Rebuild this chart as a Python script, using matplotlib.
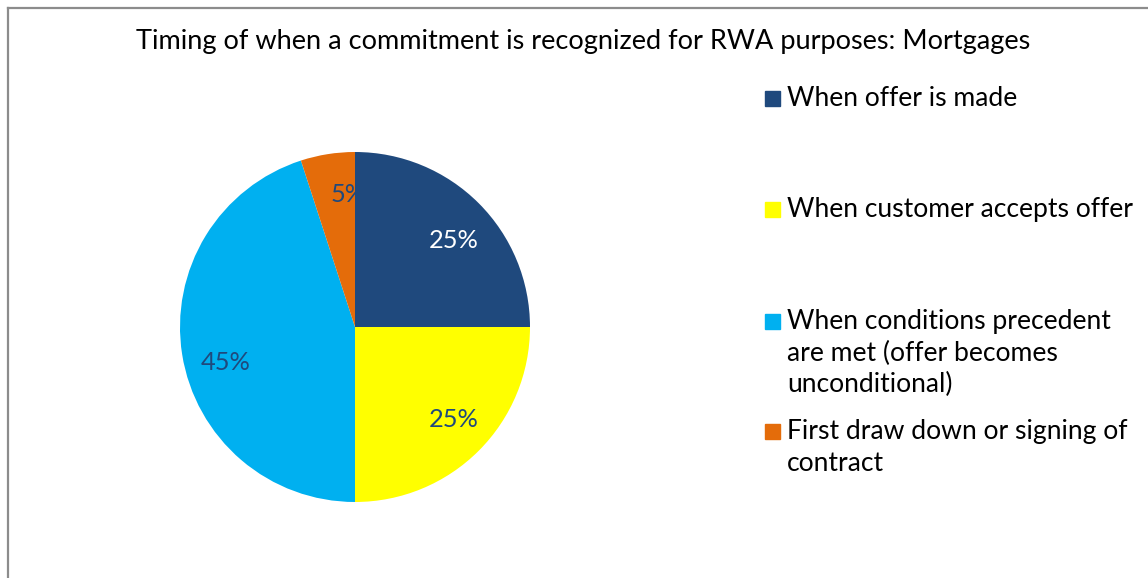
import matplotlib
matplotlib.use("Agg")
import matplotlib.pyplot as plt
from matplotlib.patches import Rectangle
from matplotlib.lines import Line2D

title = "Timing of when a commitment is recognized for RWA purposes: Mortgages"
categories = [
    "When offer is made",
    "When customer accepts offer",
    "When conditions precedent\nare met (offer becomes\nunconditional)",
    "First draw down or signing of\ncontract",
]
values = [25, 25, 45, 5]
colors = ["#1F497D", "#FFFF00", "#00B0F0", "#E46C0A"]
label_colors = ["white", "#1F497D", "#1F497D", "#1F497D"]

W, H = 1148, 578
FONT = ['Lato', 'DejaVu Sans']
plt.rcParams['font.family'] = FONT
fig = plt.figure(figsize=(W / 100, H / 100), dpi=100)
renderer = fig.canvas.get_renderer()


def fit_size(text, target_px):
    t = fig.text(0, 0, text, fontsize=10)
    w = t.get_window_extent(renderer).width
    t.remove()
    return 10 * target_px / w


def fx(px):
    return px / W


def fy(py):
    return 1 - py / H


# border
fig.add_artist(Line2D([fx(8), fx(8)], [0, fy(8)], color="#8C8C8C", lw=1.6))
fig.add_artist(Line2D([fx(8), 1], [fy(8), fy(8)], color="#8C8C8C", lw=1.6))

# pie: center (355, 327), radius 175
cx, cy, r = 355, 327, 175
ax = fig.add_axes([fx(cx - r), fy(cy + r), 2 * r / W, 2 * r / H])
pct_size = fit_size("25%", 50)
wedges, texts, autotexts = ax.pie(values, colors=colors, startangle=90, counterclock=False,
                                  autopct=lambda p: f"{p:.0f}%", pctdistance=0.77,
                                  wedgeprops=dict(linewidth=0),
                                  textprops=dict(fontsize=pct_size))
ax.set_aspect("equal")
ax.set_xlim(-1, 1)
ax.set_ylim(-1, 1)

# label baseline-centre positions in pixels (layout)
label_px = [(454, 248), (454, 427), (226, 370), (348, 202)]
for t, c, (px, py) in zip(autotexts, label_colors, label_px):
    t.set_color(c)
    t.set_position(((px - cx) / r, (cy - py) / r))
    t.set_va("baseline")
# the small slice label sits beneath the neighbouring wedge, as in the reference
autotexts[3].set_zorder(1.5)
wedges[0].set_zorder(2)

title_size = fit_size(title, 897)
fig.text(fx(583.5), fy(49), title, ha="center", va="baseline", fontsize=title_size, color="black")

# legend
leg_size = fit_size("When customer accepts offer", 346)
baselines = [[106], [217], [329, 361, 392], [439, 471]]
for lab, col, bls in zip(categories, colors, baselines):
    fig.add_artist(Rectangle((fx(765), fy(bls[0])), 15 / W, 15 / H, color=col,
                             transform=fig.transFigure))
    for line, b in zip(lab.split("\n"), bls):
        fig.text(fx(787), fy(b), line, ha="left", va="baseline", fontsize=leg_size, color="black")

fig.savefig("out.png", dpi=100)
